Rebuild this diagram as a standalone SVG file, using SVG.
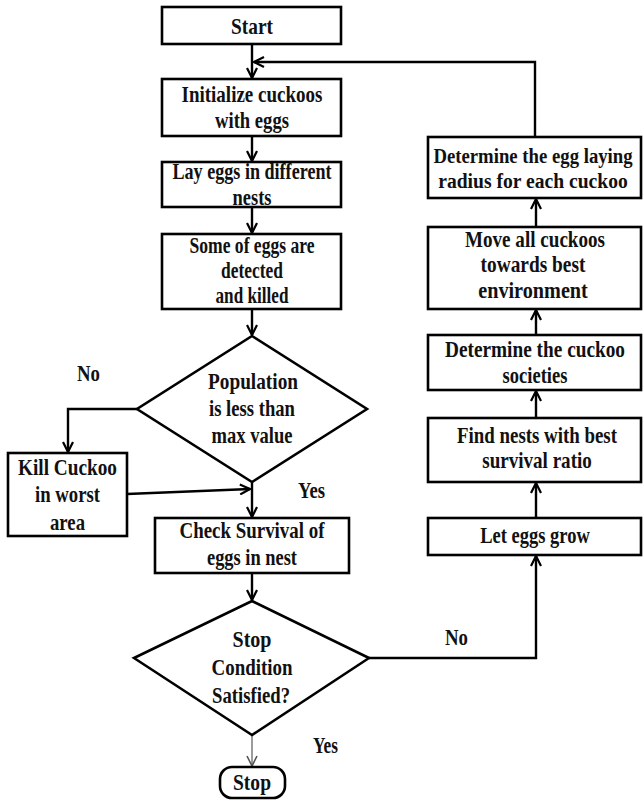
<svg xmlns="http://www.w3.org/2000/svg" width="643" height="801" viewBox="0 0 643 801">
<defs>
<style>
.b{fill:#fff;stroke:#000;stroke-width:2.6}
.t{font-family:"Liberation Serif","Times New Roman",serif;font-weight:bold;font-size:23px;fill:#111;text-anchor:middle}
.s{font-size:21px}
.c{fill:none;stroke:#000;stroke-width:2.4}
.g{fill:none;stroke:#666;stroke-width:1.3}
</style>
<marker id="ah" viewBox="0 0 12 12" refX="11" refY="6" markerWidth="12" markerHeight="12" markerUnits="userSpaceOnUse" orient="auto">
<path d="M1,1 L11,6 L1,11" fill="none" stroke="#000" stroke-width="2.2"/>
</marker>
<marker id="ahg" viewBox="0 0 12 12" refX="11" refY="6" markerWidth="12" markerHeight="12" markerUnits="userSpaceOnUse" orient="auto">
<path d="M1,1 L11,6 L1,11" fill="none" stroke="#555" stroke-width="1.6"/>
</marker>
</defs>
<rect width="643" height="801" fill="#fff"/>
<g id="connectors">
<path class="c" d="M252,44 V78" marker-end="url(#ah)"/>
<path class="c" d="M535,137 V62 H254" marker-end="url(#ah)"/>
<path class="c" d="M252,136 V161" marker-end="url(#ah)"/>
<path class="c" d="M252,207 V233" marker-end="url(#ah)"/>
<path class="c" d="M252,309 V335" marker-end="url(#ah)"/>
<path class="c" d="M137,409 H68 V452" marker-end="url(#ah)"/>
<path class="c" d="M127,494 L250,489" marker-end="url(#ah)"/>
<path class="c" d="M252,482 V517" marker-end="url(#ah)"/>
<path class="c" d="M252,573 V600" marker-end="url(#ah)"/>
<path class="g" d="M252,735 V766" marker-end="url(#ahg)"/>
<path class="c" d="M369,658 H536 V556" marker-end="url(#ah)"/>
<path class="c" d="M536,518 V483" marker-end="url(#ah)"/>
<path class="c" d="M536,418 V391" marker-end="url(#ah)"/>
<path class="c" d="M536,335 V310" marker-end="url(#ah)"/>
<path class="c" d="M536,227 V199" marker-end="url(#ah)"/>
</g>
<g id="start">
<rect class="b" x="162" y="7" width="179" height="37"/>
<text class="t" x="252" y="34" textLength="42" lengthAdjust="spacingAndGlyphs">Start</text>
</g>
<g id="init">
<rect class="b" x="162" y="79" width="179" height="57"/>
<text class="t" x="252" y="102" textLength="141" lengthAdjust="spacingAndGlyphs">Initialize cuckoos</text>
<text class="t" x="252" y="128" textLength="74" lengthAdjust="spacingAndGlyphs">with eggs</text>
</g>
<g id="lay">
<rect class="b" x="162" y="162" width="179" height="45"/>
<text class="t" x="252" y="179" textLength="159" lengthAdjust="spacingAndGlyphs">Lay eggs in different</text>
<text class="t" x="252" y="205" textLength="39" lengthAdjust="spacingAndGlyphs">nests</text>
</g>
<g id="detect">
<rect class="b" x="162" y="234" width="179" height="75"/>
<text class="t" x="252" y="253" textLength="125" lengthAdjust="spacingAndGlyphs">Some of eggs are</text>
<text class="t" x="252" y="278" textLength="62" lengthAdjust="spacingAndGlyphs">detected</text>
<text class="t" x="252" y="303" textLength="73" lengthAdjust="spacingAndGlyphs">and killed</text>
</g>
<g id="population">
<polygon class="b" points="252,336 367,409 252,482 137,409"/>
<text class="t" x="253" y="389" textLength="90" lengthAdjust="spacingAndGlyphs">Population</text>
<text class="t" x="252" y="416" textLength="86" lengthAdjust="spacingAndGlyphs">is less than</text>
<text class="t" x="252" y="443" textLength="81" lengthAdjust="spacingAndGlyphs">max value</text>
</g>
<g id="kill">
<rect class="b" x="8" y="453" width="119" height="83"/>
<text class="t" x="67.5" y="475" textLength="99" lengthAdjust="spacingAndGlyphs">Kill Cuckoo</text>
<text class="t" x="67.5" y="502" textLength="65" lengthAdjust="spacingAndGlyphs">in worst</text>
<text class="t" x="67.5" y="530" textLength="35" lengthAdjust="spacingAndGlyphs">area</text>
</g>
<g id="check">
<rect class="b" x="155" y="518" width="194" height="55"/>
<text class="t" x="252" y="538" textLength="145" lengthAdjust="spacingAndGlyphs">Check Survival of</text>
<text class="t" x="252" y="565" textLength="90" lengthAdjust="spacingAndGlyphs">eggs in nest</text>
</g>
<g id="stopcond">
<polygon class="b" points="252,601 369,658 252,735 134,658"/>
<text class="t" x="252" y="647" textLength="39" lengthAdjust="spacingAndGlyphs">Stop</text>
<text class="t" x="252" y="675" textLength="81" lengthAdjust="spacingAndGlyphs">Condition</text>
<text class="t" x="251" y="703" textLength="78" lengthAdjust="spacingAndGlyphs">Satisfied?</text>
</g>
<g id="stop">
<rect class="b" x="220" y="767" width="65" height="31" rx="12"/>
<text class="t" x="252" y="790" textLength="38" lengthAdjust="spacingAndGlyphs">Stop</text>
</g>
<g id="radius">
<rect class="b" x="428" y="137" width="213" height="61"/>
<text class="t s" transform="translate(533,163) scale(0.8,1)" x="0" y="0" textLength="249" lengthAdjust="spacingAndGlyphs">Determine the egg laying</text>
<text class="t s" transform="translate(533,187.5) scale(0.8,1)" x="0" y="0" textLength="237" lengthAdjust="spacingAndGlyphs">radius  for each cuckoo</text>
</g>
<g id="move">
<rect class="b" x="428" y="227" width="213" height="82"/>
<text class="t" transform="translate(535,247) scale(0.8,1)" x="0" y="0" textLength="175" lengthAdjust="spacingAndGlyphs">Move all cuckoos</text>
<text class="t" transform="translate(533,272) scale(0.8,1)" x="0" y="0" textLength="131" lengthAdjust="spacingAndGlyphs">towards best</text>
<text class="t" transform="translate(533,298) scale(0.8,1)" x="0" y="0" textLength="137" lengthAdjust="spacingAndGlyphs">environment</text>
</g>
<g id="societies">
<rect class="b" x="428" y="335" width="213" height="55"/>
<text class="t" transform="translate(535,357) scale(0.8,1)" x="0" y="0" textLength="225" lengthAdjust="spacingAndGlyphs">Determine the  cuckoo</text>
<text class="t" transform="translate(535,383) scale(0.8,1)" x="0" y="0" textLength="81" lengthAdjust="spacingAndGlyphs">societies</text>
</g>
<g id="findnests">
<rect class="b" x="428" y="418" width="213" height="64"/>
<text class="t" transform="translate(537,443) scale(0.8,1)" x="0" y="0" textLength="200" lengthAdjust="spacingAndGlyphs">Find nests with best</text>
<text class="t" transform="translate(537,468) scale(0.8,1)" x="0" y="0" textLength="137" lengthAdjust="spacingAndGlyphs">survival ratio</text>
</g>
<g id="grow">
<rect class="b" x="428" y="518" width="213" height="37"/>
<text class="t" transform="translate(535,543) scale(0.8,1)" x="0" y="0" textLength="137" lengthAdjust="spacingAndGlyphs">Let eggs grow</text>
</g>
<g id="labels">
<text class="t" x="88.5" y="381" textLength="23" lengthAdjust="spacingAndGlyphs">No</text>
<text class="t" x="311.5" y="498" textLength="27" lengthAdjust="spacingAndGlyphs">Yes</text>
<text class="t" x="456.5" y="645" textLength="23" lengthAdjust="spacingAndGlyphs">No</text>
<text class="t" x="325.5" y="753" textLength="25" lengthAdjust="spacingAndGlyphs">Yes</text>
</g>
</svg>
